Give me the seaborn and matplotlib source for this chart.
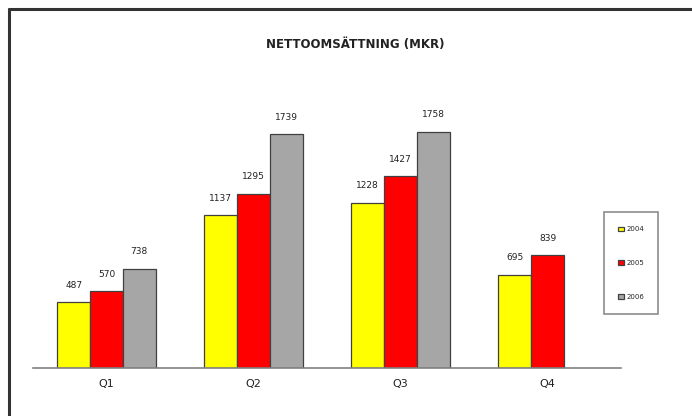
import numpy as np
import pandas as pd
import matplotlib
matplotlib.use("Agg")
import matplotlib.pyplot as plt
import seaborn as sns
from matplotlib.lines import Line2D

quarters = ["Q1", "Q2", "Q3", "Q4"]
years = ["2004", "2005", "2006"]
sales_2004 = [487, 1137, 1228, 695]
sales_2005 = [570, 1295, 1427, 839]
sales_2006 = [738, 1739, 1758, np.nan]
colors = ["#ffff00", "#ff0000", "#a6a6a6"]

rows = []
for year, vals in zip(years, [sales_2004, sales_2005, sales_2006]):
    for q, v in zip(quarters, vals):
        rows.append({"quarter": q, "year": year, "value": v})
df = pd.DataFrame(rows)

sns.set_style("white")
plt.rcParams["font.family"] = ["DejaVu Sans"]

fig = plt.figure(figsize=(6.92, 4.16), dpi=100)
ax = fig.add_axes([33 / 692, 48 / 416, 588 / 692, 309.35 / 416])

sns.barplot(data=df, x="quarter", y="value", hue="year", order=quarters,
            hue_order=years, palette=colors, width=0.67, ax=ax,
            edgecolor="#404040", linewidth=0.9, errorbar=None, saturation=1)

for cont, vals in zip(ax.containers, [sales_2004, sales_2005, sales_2006]):
    labels = ["" if np.isnan(v) else f"{int(v)}" for v in vals[:len(cont)]]
    ax.bar_label(cont, labels=labels, padding=9, fontsize=6.5, color="#222222")

ax.set_xlim(-0.5, 3.5)
ax.set_ylim(0, 2300)
ax.set_yticks([])
ax.set_xlabel("")
ax.set_ylabel("")
for s in ["top", "right", "left"]:
    ax.spines[s].set_visible(False)
ax.spines["bottom"].set_color("#808080")
ax.spines["bottom"].set_linewidth(1.2)

ax.set_xticks(np.arange(-0.5, 4.0, 1.0))
ax.set_xticklabels([])
ax.tick_params(axis="x", which="major", direction="inout", length=6,
               color="#808080", width=1)
ax.set_xticks(np.arange(len(quarters)), minor=True)
ax.set_xticklabels(quarters, minor=True, fontsize=8, color="#222222")
ax.tick_params(axis="x", which="minor", length=0, pad=8)

fig.text(0.513, 0.893, "NETTOOMSÄTTNING (MKR)", ha="center", va="center",
         fontsize=8.5, fontweight="bold", color="#222222")

leg = ax.legend(loc="center", bbox_to_anchor=(631 / 692, 1 - 263 / 416),
                bbox_transform=fig.transFigure, fontsize=5, frameon=True,
                handlelength=0.9, handleheight=0.6, labelspacing=4.0,
                borderpad=2.0, handletextpad=0.3, fancybox=False)
leg.get_frame().set_edgecolor("#707070")
leg.get_frame().set_linewidth(1.2)

fig.add_artist(Line2D([9 / 692, 1], [1 - 9 / 416, 1 - 9 / 416],
                      transform=fig.transFigure, color="#333333", linewidth=2.2))
fig.add_artist(Line2D([9 / 692, 9 / 692], [0, 1 - 9 / 416],
                      transform=fig.transFigure, color="#333333", linewidth=2.2))

fig.savefig("out.png", dpi=100)
